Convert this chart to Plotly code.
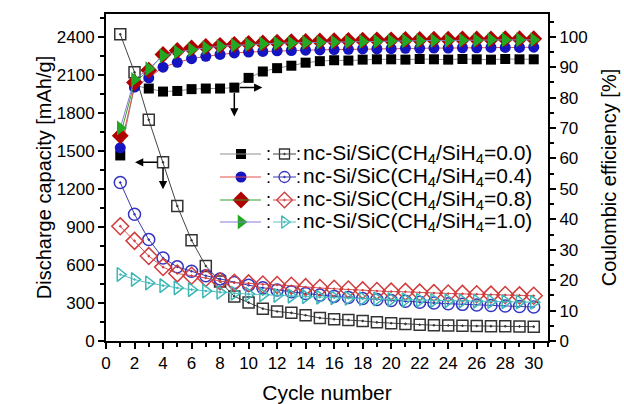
import plotly.graph_objects as go

# ---------------- data ----------------
cycles = list(range(1, 31))

# Discharge capacity [mAh/g] (open symbols, left axis)
cap_00 = [2420, 2120, 1745, 1410, 1065, 795, 592, 470, 352, 303, 255, 233, 222, 203, 182,
          172, 166, 158, 147, 140, 135, 128, 124, 122, 120, 118, 117, 116, 115, 113]
cap_04 = [1250, 1000, 800, 655, 585, 550, 515, 490, 462, 440, 420, 402, 388, 375, 362,
          352, 343, 335, 327, 320, 313, 306, 300, 294, 289, 284, 280, 276, 272, 268]
cap_08 = [905, 790, 670, 583, 533, 515, 497, 472, 460, 455, 446, 442, 436, 425, 418,
          412, 406, 400, 395, 390, 388, 382, 378, 375, 372, 369, 366, 363, 360, 357]
cap_10 = [525, 485, 458, 437, 419, 405, 394, 384, 377, 370, 365, 360, 354, 350, 345,
          341, 337, 334, 331, 328, 325, 322, 320, 318, 316, 314, 312, 310, 308, 306]

# Coulombic efficiency [%] (filled symbols, right axis)
ce_00 = [61, 84, 83, 82, 82.2, 82.8, 83, 83, 83.3, 86.5, 88.6, 89.7, 90.5, 91.5, 92,
         92.3, 92.2, 92.5, 92.6, 92.6, 92.5, 92.7, 92.6, 92.5, 92.7, 92.6, 92.5, 92.7, 92.6, 92.6]
ce_04 = [63.5, 83.5, 86.5, 90, 91.6, 92.8, 93.6, 94.2, 94.7, 95, 95.2, 95.4, 95.5, 95.6, 95.7,
         95.8, 95.9, 96, 96, 96.1, 96.2, 96.2, 96.3, 96.3, 96.4, 96.4, 96.5, 96.5, 96.5, 96.6]
ce_08 = [67.5, 85, 89, 94.2, 95.5, 96.3, 96.8, 97.2, 97.5, 97.8, 98, 98.2, 98.4, 98.5, 98.6,
         98.7, 98.8, 98.9, 99, 99, 99.1, 99.1, 99.2, 99.2, 99.3, 99.3, 99.3, 99.4, 99.4, 99.4]
ce_10 = [70, 86, 89.5, 93.8, 95, 95.8, 96.4, 96.9, 97.2, 97.5, 97.7, 97.9, 98, 98.1, 98.2,
         98.3, 98.4, 98.5, 98.5, 98.6, 98.7, 98.7, 98.8, 98.8, 98.9, 98.9, 99, 99, 99, 99]

x_ticks = list(range(0, 31, 2))
y_left_ticks = list(range(0, 2401, 300))
y_right_ticks = list(range(0, 101, 10))

series_labels = [
    "nc-Si/SiC(CH<sub>4</sub>/SiH<sub>4</sub>=0.0)",
    "nc-Si/SiC(CH<sub>4</sub>/SiH<sub>4</sub>=0.4)",
    "nc-Si/SiC(CH<sub>4</sub>/SiH<sub>4</sub>=0.8)",
    "nc-Si/SiC(CH<sub>4</sub>/SiH<sub>4</sub>=1.0)",
]
x_title = "Cycle number"
y_left_title = "Discharge capacity [mAh/g]"
y_right_title = "Coulombic efficiency [%]"

# ---------------- styles ----------------
FONT = "Liberation Sans, Arial, Helvetica, sans-serif"
cap_data = [cap_00, cap_04, cap_08, cap_10]
ce_data = [ce_00, ce_04, ce_08, ce_10]

open_styles = [
    dict(symbol="square-open-dot", color="#333333", line="#444444", size=11),
    dict(symbol="circle-open-dot", color="#3434c4", line="#3a3aa8", size=12),
    dict(symbol="diamond-open-dot", color="#d23c3c", line="#d85050", size=13),
    dict(symbol="triangle-right-open-dot", color="#3cb6b6", line="#5cc4c4", size=12),
]
filled_styles = [
    dict(symbol="square", color="#000000", line="#909090", size=10),
    dict(symbol="circle", color="#1414c0", line="#e05050", size=11),
    dict(symbol="diamond", color="#b00000", line="#30a030", size=13),
    dict(symbol="triangle-right", color="#22a822", line="#8a7ad2", size=13),
]

fig = go.Figure()

for data, st in zip(ce_data, filled_styles):
    fig.add_trace(go.Scatter(
        x=cycles, y=data, yaxis="y2", mode="lines+markers",
        line=dict(color=st["line"], width=1),
        marker=dict(symbol=st["symbol"], color=st["color"], size=st["size"],
                    line=dict(width=0)),
        showlegend=False, hoverinfo="skip"))

for data, st in zip(cap_data, open_styles):
    fig.add_trace(go.Scatter(
        x=cycles, y=data, yaxis="y", mode="lines+markers",
        line=dict(color=st["line"], width=1),
        marker=dict(symbol=st["symbol"], color=st["color"], size=st["size"],
                    line=dict(width=1.5, color=st["color"])),
        showlegend=False, hoverinfo="skip"))

# ---------------- custom legend (layout positions) ----------------
PLOT_L, PLOT_R, PLOT_T, PLOT_B = 106, 548, 14, 341


def px_x(p):
    return (p - PLOT_L) / (PLOT_R - PLOT_L)


def px_y(p):
    return (PLOT_B - p) / (PLOT_B - PLOT_T)


leg_rows = [154, 177, 200, 222]
shapes = []
annotations = []
for i, row in enumerate(leg_rows):
    fy = px_y(row)
    fst, ost = filled_styles[i], open_styles[i]
    shapes.append(dict(type="line", xref="paper", yref="paper",
                       x0=px_x(220), x1=px_x(261), y0=fy, y1=fy,
                       line=dict(color=fst["line"], width=1)))
    shapes.append(dict(type="line", xref="paper", yref="paper",
                       x0=px_x(273), x1=px_x(296), y0=fy, y1=fy,
                       line=dict(color=ost["line"], width=1)))
    fig.add_trace(go.Scatter(
        x=[px_x(241)], y=[fy], xaxis="x3", yaxis="y3", mode="markers",
        marker=dict(symbol=fst["symbol"], color=fst["color"], size=fst["size"],
                    line=dict(width=0)),
        showlegend=False, hoverinfo="skip"))
    fig.add_trace(go.Scatter(
        x=[px_x(284.5)], y=[fy], xaxis="x3", yaxis="y3", mode="markers",
        marker=dict(symbol=ost["symbol"], color=ost["color"], size=ost["size"] - 1,
                    line=dict(width=1.3, color=ost["color"])),
        showlegend=False, hoverinfo="skip"))
    for cx in (268.5, 298):
        annotations.append(dict(xref="paper", yref="paper", x=px_x(cx), y=fy,
                                text=":", showarrow=False, xanchor="center",
                                yanchor="middle",
                                font=dict(family=FONT, size=18, color="#000")))
    annotations.append(dict(xref="paper", yref="paper", x=px_x(301), y=fy,
                            text=series_labels[i], showarrow=False,
                            xanchor="left", yanchor="middle",
                            font=dict(family=FONT, size=21, color="#000")))

# ---------------- arrows anchored on data points ----------------
arrow_common = dict(showarrow=True, text="", arrowhead=2, arrowsize=1.1,
                    arrowwidth=1.5, arrowcolor="#000", startstandoff=4)
# left-axis indicator at open square of cycle 4
annotations.append(dict(xref="x", yref="y", x=cycles[3], y=cap_00[3],
                        xshift=-28, ax=28, ay=0, **arrow_common))
annotations.append(dict(xref="x", yref="y", x=cycles[3], y=cap_00[3],
                        yshift=-27, ax=0, ay=-27, **arrow_common))
# right-axis indicator at filled square of cycle 9
annotations.append(dict(xref="x", yref="y2", x=cycles[8], y=ce_00[8],
                        xshift=28, ax=-28, ay=0, **arrow_common))
annotations.append(dict(xref="x", yref="y2", x=cycles[8], y=ce_00[8],
                        yshift=-29, ax=0, ay=-29, **arrow_common))

axis_common = dict(showgrid=False, zeroline=False, showline=True, linewidth=2,
                   linecolor="#000", ticks="outside", ticklen=6, tickwidth=1.5,
                   tickcolor="#000", automargin=False,
                   tickfont=dict(family=FONT, size=17, color="#000"))

fig.update_layout(
    width=624, height=404, autosize=False,
    margin=dict(l=PLOT_L, r=624 - PLOT_R, t=PLOT_T, b=404 - PLOT_B, autoexpand=False),
    paper_bgcolor="white", plot_bgcolor="white",
    font=dict(family=FONT, color="#000"),
    xaxis=dict(range=[0, 31], tickvals=x_ticks, mirror=True,
               minor=dict(dtick=1, tick0=0, ticks="outside", ticklen=4, tickwidth=1.5,
                          tickcolor="#000"),
               title=dict(text=x_title, font=dict(family=FONT, size=21), standoff=14),
               **axis_common),
    yaxis=dict(range=[0, 2580], tickvals=y_left_ticks,
               minor=dict(dtick=150, tick0=0, ticks="outside", ticklen=4, tickwidth=1.5,
                          tickcolor="#000"),
               title=dict(text=y_left_title, font=dict(family=FONT, size=20), standoff=0),
               **axis_common),
    yaxis2=dict(range=[0, 107.5], tickvals=y_right_ticks, overlaying="y", side="right",
                anchor="x",
                minor=dict(dtick=5, tick0=0, ticks="outside", ticklen=4, tickwidth=1.5,
                           tickcolor="#000"),
                title=dict(text=y_right_title, font=dict(family=FONT, size=20), standoff=15),
                **axis_common),
    xaxis3=dict(overlaying="x", range=[0, 1], visible=False, anchor="y3"),
    yaxis3=dict(overlaying="y", range=[0, 1], visible=False, anchor="x3"),
    shapes=shapes,
    annotations=annotations,
    showlegend=False,
)

fig.write_html("out.html", config={"displayModeBar": False},
               post_script="document.body.style.margin='0';")
